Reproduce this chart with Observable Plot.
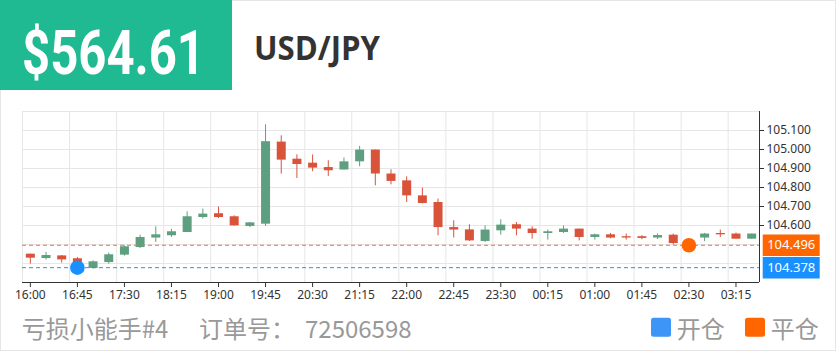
<!DOCTYPE html>
<html>
<head>
<meta charset="utf-8">
<script src="https://cdn.jsdelivr.net/npm/d3@7"></script>
<script src="https://cdn.jsdelivr.net/npm/@observablehq/plot@0.6"></script>
<style>
  html, body { margin: 0; padding: 0; background: #fff; }
  #page { position: relative; width: 840px; height: 352px; overflow: hidden; }
  #overlay { position: absolute; left: 0; top: 0; }
  #chart { position: absolute; left: 0; top: 100px; }
  #chart svg { overflow: visible; }
</style>
</head>
<body>
<div id="page">
  <svg id="overlay" width="840" height="352">
    <rect x="0.5" y="0.5" width="835" height="350" fill="none" stroke="#e6e6e6" stroke-width="1"></rect>
    <rect x="0" y="0" width="232" height="90" fill="#1fba91"></rect>
    <text id="price" x="22" y="73.5" font-family="Roboto, sans-serif" font-weight="700" font-size="61" fill="#ffffff" textLength="183" lengthAdjust="spacingAndGlyphs"></text>
    <text id="pair" x="254" y="60" font-family="'Open Sans', sans-serif" font-weight="700" font-size="33.5" fill="#333333" textLength="126" lengthAdjust="spacingAndGlyphs"></text>
    <g id="footer" font-family="'Noto Sans CJK SC', sans-serif" font-size="24" fill="#999999"></g>
  </svg>
  <div id="chart"></div>
</div>
<script>
// ---------- data ----------
const title = "$564.61";
const pair = "USD/JPY";
const captionName = "亏损小能手#4";
const captionOrderLabel = "订单号：";
const captionOrder = "72506598";
const legendLabels = ["开仓", "平仓"];
const legendColors = ["#3d95f7", "#ff6600"];

const times = ["16:00","16:15","16:30","16:45","17:00","17:15","17:30","17:45","18:00","18:15",
  "18:30","18:45","19:00","19:15","19:30","19:45","20:00","20:15","20:30","20:45",
  "21:00","21:15","21:30","21:45","22:00","22:15","22:30","22:45","23:00","23:15",
  "23:30","23:45","00:00","00:15","00:30","00:45","01:00","01:15","01:30","01:45",
  "02:00","02:15","02:30","02:45","03:00","03:15","03:30"];

const opens = [104.449,104.426,104.440,104.425,104.374,104.405,104.444,104.484,104.534,104.546,
  104.563,104.642,104.662,104.646,104.595,104.607,105.039,104.949,104.928,104.905,
  104.892,104.935,104.997,104.871,104.835,104.756,104.721,104.589,104.577,104.516,
  104.572,104.604,104.581,104.558,104.563,104.581,104.537,104.551,104.541,104.541,
  104.534,104.549,104.505,104.534,104.558,104.555,104.528];
const closes = [104.428,104.442,104.419,104.405,104.409,104.446,104.488,104.537,104.551,104.567,
  104.646,104.660,104.642,104.598,104.614,105.041,104.944,104.921,104.902,104.888,
  104.935,104.997,104.871,104.832,104.756,104.716,104.589,104.576,104.519,104.576,
  104.602,104.581,104.558,104.567,104.581,104.537,104.551,104.534,104.534,104.532,
  104.547,104.505,104.497,104.555,104.551,104.528,104.555];
const highs = [104.450,104.458,104.442,104.432,104.414,104.455,104.493,104.549,104.593,104.579,
  104.672,104.686,104.697,104.651,104.616,105.130,105.072,104.972,104.971,104.941,
  104.955,105.016,104.997,104.893,104.856,104.797,104.739,104.625,104.604,104.598,
  104.630,104.616,104.593,104.576,104.597,104.581,104.555,104.558,104.555,104.547,
  104.555,104.555,104.512,104.558,104.576,104.560,104.555];
const lows = [104.397,104.418,104.402,104.400,104.371,104.397,104.439,104.479,104.511,104.537,
  104.563,104.634,104.637,104.597,104.589,104.595,104.871,104.847,104.883,104.858,
  104.892,104.909,104.809,104.814,104.721,104.713,104.546,104.534,104.516,104.511,
  104.549,104.546,104.528,104.523,104.558,104.519,104.523,104.530,104.523,104.525,
  104.526,104.498,104.490,104.515,104.537,104.528,104.528];

const openIndex = 3, openPrice = 104.378;
const closeIndex = 42, closePrice = 104.496;

const yDomain = [104.3, 105.2];
const yGrid = [104.3,104.4,104.5,104.6,104.7,104.8,104.9,105.0,105.1,105.2];
const yTickValues = [104.6,104.7,104.8,104.9,105.0,105.1];
const xTickIndex = [0,3,6,9,12,15,18,21,24,27,30,33,36,39,42,45];
const xGridBounds = [-0.5,2.5,5.5,8.5,11.5,14.5,17.5,20.5,23.5,26.5,29.5,32.5,35.5,38.5,41.5,44.5];

const UP = "#5d9f7e", DOWN = "#d9533a";

// ---------- build ----------
const candles = times.map((t, i) => ({i, t, open: opens[i], close: closes[i], high: highs[i], low: lows[i],
  color: closes[i] >= opens[i] ? UP : DOWN}));
const levels = [
  {price: closePrice, color: "#ff6600", line: "#e8744a"},
  {price: openPrice, color: "#1890ff", line: "#3a8fc4"}
];
const markers = [
  {i: openIndex, price: openPrice, color: "#1890ff"},
  {i: closeIndex, price: closePrice, color: "#ff6600"}
];
const boxSymbol = {draw(ctx) { ctx.rect(-28.5, -10.7, 57, 21.4); }};

document.getElementById("price").textContent = title;
document.getElementById("pair").textContent = pair;

const chart = Plot.plot({
  width: 840,
  height: 205,
  marginLeft: 22,
  marginRight: 81,
  marginTop: 11,
  marginBottom: 23,
  x: {type: "linear", domain: [-0.5, times.length - 0.5]},
  y: {domain: yDomain},
  style: {fontFamily: "'Noto Sans', sans-serif", fontSize: "12px", color: "#333", background: "transparent"},
  marks: [
    Plot.gridY(yGrid, {stroke: "#e6e6e6", strokeOpacity: 1}),
    Plot.gridX(xGridBounds, {stroke: "#e6e6e6", strokeOpacity: 1}),
    Plot.ruleX(candles, {x: "i", y1: "low", y2: "high", stroke: "color", strokeWidth: 1}),
    Plot.ruleX(candles, {x: "i", y1: "open", y2: "close", stroke: "color", strokeWidth: 9}),
    Plot.ruleY(levels, {y: "price", stroke: "line", strokeDasharray: "4,3", strokeWidth: 1}),
    Plot.axisX(xTickIndex, {tickFormat: i => times[i], tickSize: 5, tickPadding: 3, label: null, fill: "#333", stroke: "#333"}),
    Plot.axisY(yTickValues, {anchor: "right", tickFormat: d3.format(".3f"), tickSize: 4, tickPadding: 3, label: null, fill: "#333", stroke: "#333"}),
    Plot.ruleY([yDomain[0]], {stroke: "#333"}),
    Plot.ruleX([times.length - 0.5], {stroke: "#333"}),
    Plot.dot(markers, {x: "i", y: "price", r: 7.3, fill: "color", stroke: null}),
    Plot.dot(levels, {y: "price", frameAnchor: "right", dx: 31.7, symbol: boxSymbol, r: 5, fill: "color", stroke: null}),
    Plot.text(levels, {y: "price", text: d => d.price.toFixed(3), frameAnchor: "right", dx: 31.7, textAnchor: "middle", fill: "white", fontSize: 13})
  ]
});
document.getElementById("chart").appendChild(chart);

// ---------- footer ----------
const footer = d3.select("#footer");
footer.append("text").attr("x", 21.7).attr("y", 338).text(captionName);
footer.append("text").attr("x", 199).attr("y", 338).text(captionOrderLabel);
footer.append("text").attr("x", 305).attr("y", 338).text(captionOrder);
const legendX = [651, 745];
legendLabels.forEach((lab, k) => {
  footer.append("rect").attr("x", legendX[k]).attr("y", 317.7).attr("width", 20).attr("height", 19)
    .attr("rx", 2.5).attr("fill", legendColors[k]);
  footer.append("text").attr("x", legendX[k] + 25.7).attr("y", 338).text(lab);
});
</script>
</body>
</html>
